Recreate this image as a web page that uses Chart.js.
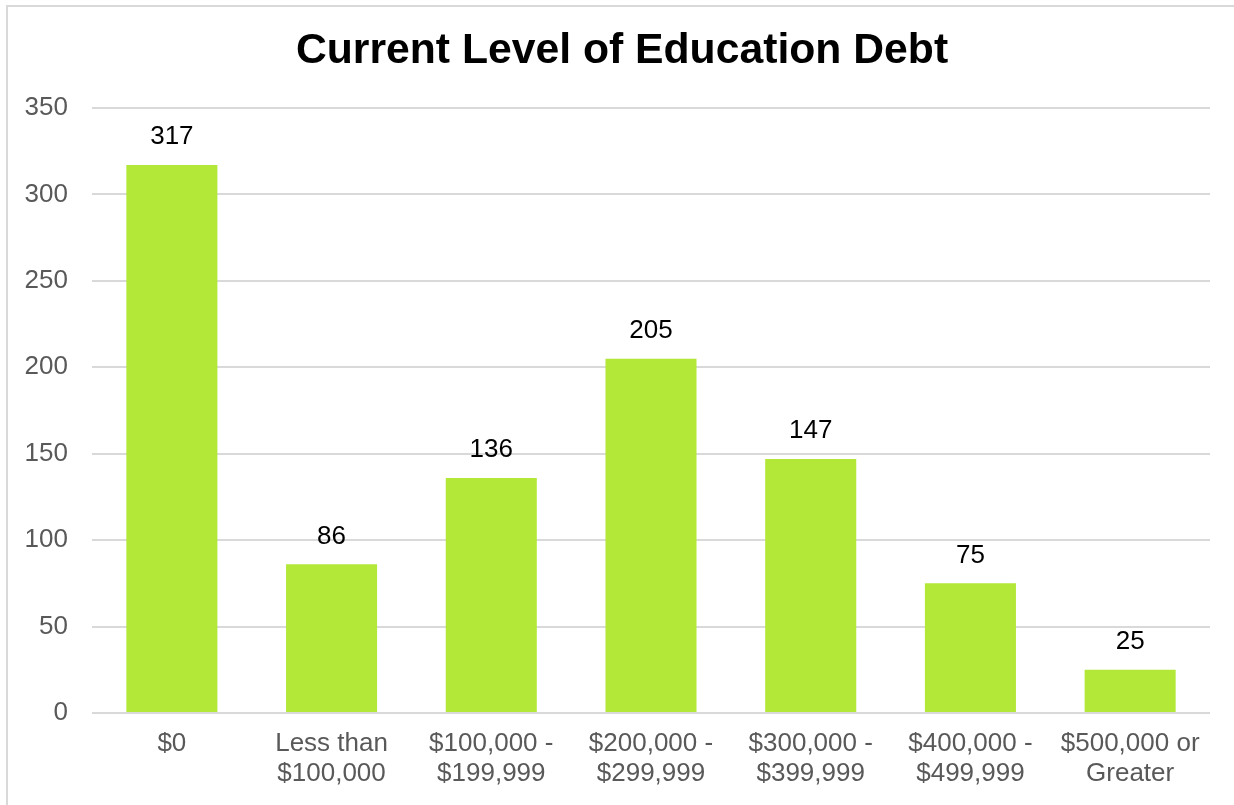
<!DOCTYPE html>
<html>
<head>
<meta charset="utf-8">
<script src="https://cdn.jsdelivr.net/npm/chart.js@4/dist/chart.umd.min.js"></script>
<style>
  html, body { margin: 0; padding: 0; background: #fff; }
  #wrap { position: relative; width: 1234px; height: 805px; }
  #frame { position: absolute; left: 6px; top: 5px; width: 1240px; height: 820px;
           border-left: 2px solid #d9d9d9; border-top: 2px solid #d9d9d9; }
  canvas { position: absolute; left: 0; top: 0; }
</style>
</head>
<body>
<div id="wrap">
  <div id="frame"></div>
  <canvas id="graphCanvas" width="1234" height="805"></canvas>
</div>
<script>
const chartTitle = 'Current Level of Education Debt';
const categories = [
    ['$0'],
    ['Less than', '$100,000'],
    ['$100,000 -', '$199,999'],
    ['$200,000 -', '$299,999'],
    ['$300,000 -', '$399,999'],
    ['$400,000 -', '$499,999'],
    ['$500,000 or', 'Greater']
];
const counts = [317, 86, 136, 205, 147, 75, 25];
const yTicks = [0, 50, 100, 150, 200, 250, 300, 350];

// title is centred on the framed area, not the canvas, so draw it by hand
const titleText = {
    id: 'titleText',
    afterDraw(chart) {
        const ctx = chart.ctx;
        ctx.save();
        ctx.font = 'bold 42.7px "Liberation Sans", Arial, sans-serif';
        ctx.fillStyle = '#000000';
        ctx.textAlign = 'center';
        ctx.textBaseline = 'middle';
        ctx.fillText(chartTitle, 622, 51);
        ctx.restore();
    }
};

// draws the number above each bar
const barLabels = {
    id: 'barLabels',
    afterDatasetsDraw(chart) {
        const ctx = chart.ctx;
        const meta = chart.getDatasetMeta(0);
        ctx.save();
        ctx.font = '26px "Liberation Sans", Arial, sans-serif';
        ctx.fillStyle = '#000000';
        ctx.textAlign = 'center';
        ctx.textBaseline = 'middle';
        meta.data.forEach(function (bar, i) {
            ctx.fillText(String(counts[i]), bar.x, bar.y - 28);
        });
        ctx.restore();
    }
};

const graphTarget = document.getElementById('graphCanvas');
new Chart(graphTarget, {
    type: 'bar',
    data: {
        labels: categories,
        datasets: [{
            data: counts,
            backgroundColor: '#b3e738',
            borderWidth: 0,
            barPercentage: 0.57,
            categoryPercentage: 1.0
        }]
    },
    options: {
        responsive: false,
        animation: false,
        devicePixelRatio: 1,
        layout: { padding: { left: 0, right: 24, top: 108, bottom: 0 } },
        plugins: {
            legend: { display: false },
            tooltip: { enabled: false },
            title: { display: false }
        },
        scales: {
            x: {
                grid: { display: false, drawTicks: false },
                border: { display: false },
                ticks: {
                    color: '#595959',
                    padding: 16,
                    maxRotation: 0,
                    autoSkip: false,
                    font: { family: '"Liberation Sans", Arial, sans-serif', size: 26, lineHeight: 1.154 }
                },
                afterFit: function (s) { s.height = 92; }
            },
            y: {
                min: 0,
                max: 350,
                afterBuildTicks: function (s) { s.ticks = yTicks.map(v => ({ value: v })); },
                grid: { color: '#d9d9d9', lineWidth: 2, drawTicks: false },
                border: { display: false },
                ticks: {
                    color: '#595959',
                    padding: 24,
                    font: { family: '"Liberation Sans", Arial, sans-serif', size: 26 }
                },
                afterFit: function (s) { s.width = 92; }
            }
        }
    },
    plugins: [barLabels, titleText]
});
</script>
</body>
</html>
